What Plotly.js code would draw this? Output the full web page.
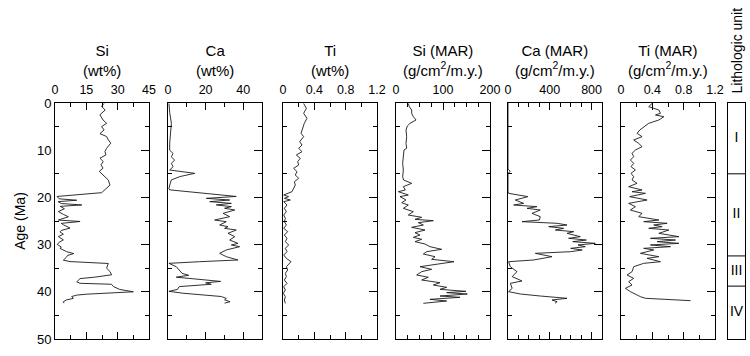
<!DOCTYPE html>
<html>
<head>
<meta charset="utf-8">
<script src="https://cdn.plot.ly/plotly-3.0.1.min.js"></script>
<style>html,body{margin:0;padding:0;background:#fff;}#chart{width:750px;height:356px;}</style>
</head>
<body>
<div id="chart"></div>
<script>
// ---------- DATA ----------
const siAge = [0.1,0.7,1.5,2.5,3.6,4.3,5.0,5.7,6.5,7.1,
  7.8,8.5,9.6,10.3,11.0,11.7,12.4,13.1,13.8,14.5,
  16.3,17.4,19.0,19.8,20.3,20.6,20.9,21.3,21.6,21.9,
  22.4,23.0,23.6,24.1,24.8,25.1,25.5,25.8,26.5,27.0,
  27.3,27.8,28.3,29.0,29.5,30.0,30.5,30.8,31.5,31.9,
  32.3,32.6,33.3,33.6,34.0,35.0,35.7,36.4,36.9,37.2,
  37.9,38.2,38.4,38.9,39.5,40.0,40.5,40.7,41.0,41.4,
  41.7,42.1,42.4];
const siVal = [23.5,22.3,24,21.5,23,24.7,22.3,23.5,21.5,24.7,
  25.5,26.7,24.7,23.9,24.4,21.5,23.1,22,23,21.2,
  25.5,26.3,22.3,1.0,2,10.4,1.5,3,12.8,2.5,
  4.5,1.6,4,6.4,1.6,12,3,4,7.2,3,
  2.4,4,1.6,4,2,1.1,3,2.4,5.6,9,
  6,5.6,4,7.2,25.5,24.7,26.3,27.1,19,12,
  10.4,12,27,28,31,37.5,15.2,10.4,8,8.8,
  5.6,4,4.3];

const caAge = [0.1,2.0,4.3,6.4,8.5,10.0,10.7,11.4,12.1,12.8,
  13.5,14.2,14.9,15.6,16.3,17.0,18.1,18.4,19.8,20.2,
  20.55,20.9,21.26,21.6,21.96,22.3,22.67,23.38,24.08,24.79,
  25.14,25.85,26.2,26.55,26.91,27.61,28.32,29.03,29.73,30.08,
  30.44,31.14,31.85,32.56,33.26,33.62,33.97,34.68,35.73,36.1,
  36.5,36.9,37.8,38.1,38.4,38.9,39.5,39.9,40.3,40.7,
  41.0,41.4,41.7,42.1,42.4];
const caVal = [0.5,0.9,1.8,1.2,0.9,0.9,2.7,1.8,3.5,1.8,
  2.7,0.9,14.2,6.2,1.8,1.2,0.5,0.9,36.3,20.4,
  32.8,22.2,33.7,25.7,33.7,30.1,35.5,29.3,32.8,24.8,
  31.0,27.5,31.9,30.1,36.3,31.9,35.5,32.8,37.2,33.7,
  38.1,31.0,27.5,31.0,37.2,16.8,0.5,4.4,7.1,7.5,
  11,4.4,28,20,23,6,5,0.5,8,18.6,
  28.4,31,30.1,33,30.1];

const tiAge = [0.1,1.13,2.19,3.25,4.31,5.37,6.43,7.13,8.19,8.90,
  9.60,10.31,11.02,11.72,12.43,13.14,13.84,14.55,15.25,15.96,
  16.67,17.37,18.08,18.79,19.49,19.84,20.20,20.55,20.90,21.61,
  22.32,23.02,23.73,24.44,25.14,25.85,26.55,27.26,27.97,28.67,
  29.38,30.08,30.79,31.50,32.20,32.91,33.62,33.97,34.68,35.38,
  36.09,36.79,37.50,38.21,38.91,39.62,40.32,41.03,41.74,42.44];
const tiVal = [0.264,0.298,0.264,0.306,0.272,0.255,0.230,0.264,0.213,0.243,
  0.200,0.243,0.170,0.221,0.187,0.200,0.136,0.179,0.157,0.200,
  0.145,0.157,0.136,0.115,0.009,0.072,0.017,0.094,0.009,0.051,
  0.017,0.043,0.009,0.030,0.017,0.043,0.009,0.060,0.017,0.051,
  0.030,0.072,0.030,0.051,0.009,0.043,0.102,0.085,0.043,0.060,
  0.030,0.043,0.017,0.051,0.009,0.030,0.004,0.030,0.017,0.030];

const siMarAge = [0.1,0.78,1.48,2.19,2.90,3.60,4.31,4.87,5.72,7.13,
  8.55,9.60,9.96,11.37,12.78,14.19,15.61,16.31,17.02,17.73,
  18.43,18.79,19.49,19.84,20.55,21.12,21.61,22.32,23.02,23.73,
  24.22,24.65,24.93,25.35,25.85,26.34,26.91,27.47,27.97,28.46,
  28.88,29.38,29.87,30.44,31.00,31.50,31.99,32.56,33.12,33.62,
  34.11,34.68,35.24,35.73,36.44,36.93,37.50,38.07,38.56,39.05,
  39.48,39.90,40.18,40.47,40.89,41.17,41.60,41.95,42.44];
const siMarVal = [26.2,28.4,33.3,33.3,36.9,42.6,29.8,24.1,21.3,22.7,
  21.3,22.7,17.0,15.6,14.2,15.6,14.2,16,33.3,15.6,
  19.9,5.0,26.2,8.5,21.3,12.1,26.2,15.6,36.9,26.2,
  54.6,40.4,79.4,47.5,58.2,33.3,61.7,40.4,51.1,36.9,
  54.6,40.4,61.7,72.3,97.2,65.2,58.2,83.0,75.9,123.4,
  86.5,51.1,75.9,54.6,44.0,68.8,54.6,93.6,79.4,107.8,
  93.6,148.9,107.8,151.8,93.6,136.2,72.3,107.8,58.2];

const caMarAge = [0,14.0,14.5,14.9,18.8,19.14,19.84,20.55,21.26,21.61,
  21.96,22.32,22.67,23.38,24.08,24.79,25.14,25.49,25.85,26.20,
  26.55,26.91,27.26,27.61,28.32,28.67,29.03,29.38,29.73,30.08,
  30.44,30.79,31.14,31.50,31.85,32.56,33.26,33.62,34.68,35.73,
  36.79,37.71,38.21,39.27,39.97,40.47,40.89,41.38,41.74,42.09,
  42.44];
const caMarVal = [0,0,22,0,0,6,190,70,150,55,
  277,182,309,230,309,300,134,470,565,390,
  533,453,629,565,692,580,750,620,836,670,
  740,600,710,600,262,421,245,6,22,86,
  40,134,22,40,6,120,309,565,421,470,
  450];

const tiMarAge = [0.1,0.78,1.13,1.48,2.19,2.54,2.90,3.60,4.31,5.01,
  5.72,6.43,7.13,7.84,8.55,9.25,9.96,10.66,11.37,12.08,
  12.78,13.49,14.19,14.90,15.61,16.31,17.02,17.73,18.43,18.79,
  19.14,19.84,20.55,21.26,21.96,22.67,23.38,24.08,24.79,25.14,
  25.49,25.85,26.20,26.55,26.91,27.61,28.32,28.67,29.03,29.38,
  29.73,30.08,30.44,30.79,31.14,31.85,32.56,32.91,33.62,33.97,
  34.68,35.73,36.44,37.15,37.85,38.56,39.27,39.97,40.68,41.03,
  41.38,41.88];
const tiMarVal = [0.397,0.354,0.418,0.483,0.504,0.440,0.547,0.483,0.354,0.290,
  0.239,0.205,0.269,0.162,0.226,0.269,0.184,0.141,0.162,0.120,
  0.162,0.128,0.184,0.128,0.162,0.141,0.205,0.098,0.269,0.141,
  0.312,0.111,0.333,0.098,0.184,0.120,0.269,0.226,0.483,0.290,
  0.589,0.418,0.525,0.354,0.611,0.483,0.739,0.376,0.696,0.461,
  0.739,0.376,0.632,0.290,0.418,0.248,0.483,0.333,0.504,0.290,
  0.162,0.141,0.077,0.162,0.098,0.141,0.056,0.120,0.205,0.248,
  0.312,0.888];

// Lithologic units
const unitNames = ['I','II','III','IV'];
const unitTop = [0,15,32.4,38.8];
const unitBottom = [15,32.4,38.8,50];

// Axis tick labels
const siTicks = [0,15,30,45],        siMinor = [7.5,22.5,37.5];
const caTicks = [0,20,40],           caMinor = [10,30];
const tiTicks = [0,0.4,0.8,1.2],     tiMinor = [0.2,0.6,1.0];
const siMarTicks = [0,100,200],      siMarMinor = [25,50,75,125,150,175];
const caMarTicks = [0,400,800],      caMarMinor = [100,200,300,500,600,700];
const tiMarTicks = [0,0.4,0.8,1.2],  tiMarMinor = [0.2,0.6,1.0];
const ageTicks = [0,10,20,30,40,50], ageMinor = [5,15,25,35,45];

// ---------- CHART ----------
const panels = [
  {x: siVal, y: siAge, range:[0,45], ticks: siTicks, minor: siMinor, title:'Si<br>(wt%)'},
  {x: caVal, y: caAge, range:[0,50], ticks: caTicks, minor: caMinor, title:'Ca<br>(wt%)'},
  {x: tiVal, y: tiAge, range:[0,1.2], ticks: tiTicks, minor: tiMinor, title:'Ti<br>(wt%)'},
  {x: siMarVal, y: siMarAge, range:[0,200], ticks: siMarTicks, minor: siMarMinor, title:'Si (MAR)<br>(g/cm<sup>2</sup>/m.y.)'},
  {x: caMarVal, y: caMarAge, range:[0,900], ticks: caMarTicks, minor: caMarMinor, title:'Ca (MAR)<br>(g/cm<sup>2</sup>/m.y.)'},
  {x: tiMarVal, y: tiMarAge, range:[0,1.2], ticks: tiMarTicks, minor: tiMarMinor, title:'Ti (MAR)<br>(g/cm<sup>2</sup>/m.y.)'}
];
// pixel positions of panel frames (plot area from x=55 to x=745)
const L = 55, W = 690;
const framePx = [[55,149],[168,262],[283,377],[396,490],[508,602],[621,715],[728,745]];
const dom = framePx.map(p => [(p[0]-L)/W, (p[1]-L)/W]);

const FONT = 'Liberation Sans, Arial, Helvetica, sans-serif';
const LINE = '#1a1a1a';
const traces = [];
const layout = {
  width: 750, height: 356,
  margin: {l: L, r: 5, t: 103, b: 17, pad: 0},
  paper_bgcolor: '#fff', plot_bgcolor: '#fff',
  showlegend: false,
  font: {family: FONT, color: '#000', size: 12},
  annotations: [],
  shapes: []
};

panels.forEach((p, i) => {
  const n = i + 1;
  const s = (n === 1 ? '' : String(n));
  traces.push({
    type: 'scatter', mode: 'lines', x: p.x, y: p.y,
    xaxis: 'x' + s, yaxis: 'y' + s,
    line: {color: LINE, width: 0.9}, hoverinfo: 'skip'
  });
  layout['xaxis' + s] = {
    domain: dom[i], range: p.range, side: 'top',
    anchor: 'y' + s,
    showgrid: false, zeroline: false,
    showline: true, linecolor: '#000', linewidth: 1, mirror: 'ticks',
    tickmode: 'array', tickvals: p.ticks, ticktext: p.ticks.map(String),
    ticks: 'inside', ticklen: 7, tickwidth: 1, tickcolor: '#000',
    ticklabelstandoff: 3,
    minor: {tickmode: 'array', tickvals: p.minor, ticks: 'inside', ticklen: 4, tickwidth: 1, tickcolor: '#000', showgrid: false},
    tickfont: {size: 12.5, family: FONT},
    fixedrange: true
  };
  // left y axis: labels (first panel only) and minor ticks only
  layout['yaxis' + s] = {
    domain: [0, 1], range: [50, 0], side: 'left',
    anchor: 'x' + s,
    showgrid: false, zeroline: false,
    showline: true, linecolor: '#000', linewidth: 1, mirror: true,
    tickmode: 'array', tickvals: ageTicks, ticktext: ageTicks.map(String),
    ticks: 'inside', ticklen: 0.01, tickcolor: 'rgba(0,0,0,0)',
    minor: {tickmode: 'array', tickvals: ageMinor, ticks: 'inside', ticklen: 4, tickwidth: 1, tickcolor: '#000', showgrid: false},
    showticklabels: n === 1,
    tickfont: {size: 13, family: FONT},
    fixedrange: true
  };
  if (n === 1) {
    layout['yaxis' + s].title = {text: 'Age (Ma)', font: {size: 14, family: FONT}, standoff: 8};
  }
  // right y axis: major + minor ticks
  layout['yaxis' + (n + 7)] = {
    overlaying: 'y' + s, side: 'right',
    anchor: 'x' + s,
    range: [50, 0], showgrid: false, zeroline: false, showline: false,
    tickmode: 'array', tickvals: ageTicks,
    ticks: 'inside', ticklen: 8, tickwidth: 1, tickcolor: '#000',
    minor: {tickmode: 'array', tickvals: ageMinor, ticks: 'inside', ticklen: 4, tickwidth: 1, tickcolor: '#000', showgrid: false},
    showticklabels: false, fixedrange: true
  };
  layout.annotations.push({
    xref: 'x' + s + ' domain', yref: 'paper',
    x: 0.5, y: 1, xanchor: 'center', yanchor: 'bottom', yshift: 22,
    text: p.title, showarrow: false,
    font: {size: 15, family: FONT, color: '#000'}
  });
  // invisible trace to register the right axis
  traces.push({type: 'scatter', mode: 'lines', x: [p.range[0]], y: [0],
    xaxis: 'x' + s, yaxis: 'y' + (n + 7),
    line: {width: 0}, hoverinfo: 'skip', showlegend: false});
});

// Lithologic unit column
layout.xaxis7 = {domain: dom[6], range: [0, 1], anchor: 'y7', showgrid: false, zeroline: false,
  showline: true, linecolor: '#000', linewidth: 1, mirror: true, ticks: '', showticklabels: false, fixedrange: true};
layout.yaxis7 = {domain: [0, 1], range: [50, 0], anchor: 'x7', showgrid: false, zeroline: false,
  showline: true, linecolor: '#000', linewidth: 1, mirror: true, ticks: '', showticklabels: false, fixedrange: true};
const bx = [], by = [];
unitBottom.slice(0, -1).forEach(b => { bx.push(0, 1, null); by.push(b, b, null); });
traces.push({type: 'scatter', mode: 'lines', x: bx, y: by, xaxis: 'x7', yaxis: 'y7',
  line: {color: '#000', width: 1}, hoverinfo: 'skip'});
traces.push({type: 'scatter', mode: 'text', xaxis: 'x7', yaxis: 'y7',
  x: unitNames.map(() => 0.5),
  y: unitNames.map((_, k) => (unitTop[k] + unitBottom[k]) / 2),
  text: unitNames, textposition: 'middle center',
  textfont: {size: 14, family: FONT, color: '#000'}, hoverinfo: 'skip'});
layout.annotations.push({
  xref: 'x7 domain', yref: 'paper', x: 0.5, y: 1, xanchor: 'center', yanchor: 'bottom', yshift: 7,
  text: 'Lithologic unit', textangle: -90, showarrow: false,
  font: {size: 14, family: FONT, color: '#000'}
});

Plotly.newPlot('chart', traces, layout, {staticPlot: true, displayModeBar: false});
</script>
</body>
</html>
